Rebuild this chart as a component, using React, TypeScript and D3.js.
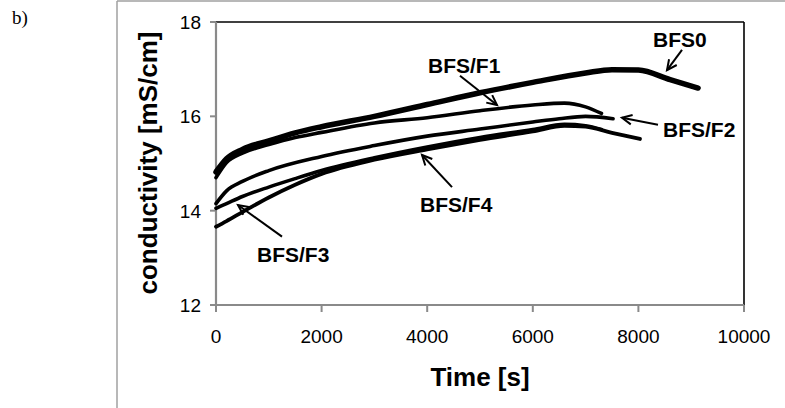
import React from 'react';
import * as d3 from 'd3';

// ---- data ----
const xTickValues = [0, 2000, 4000, 6000, 8000, 10000];
const yTickValues = [12, 14, 16, 18];

const timeBFS0 = [0, 200, 500, 1000, 1500, 2000, 3000, 4000, 5000, 6000, 7000, 7500, 8000, 8600, 9130];
const condBFS0 = [14.82, 15.1, 15.3, 15.48, 15.65, 15.78, 16.0, 16.25, 16.5, 16.72, 16.92, 16.99, 16.98, 16.78, 16.6];

const timeF1 = [0, 200, 500, 1000, 1500, 2000, 3000, 4000, 5000, 6000, 6600, 7000, 7300];
const condF1 = [14.7, 15.02, 15.22, 15.4, 15.55, 15.66, 15.86, 15.97, 16.12, 16.24, 16.28, 16.2, 16.06];

const timeF2 = [0, 200, 500, 1000, 2000, 3000, 4000, 5000, 6000, 6500, 7000, 7520];
const condF2 = [14.15, 14.42, 14.62, 14.85, 15.15, 15.38, 15.58, 15.73, 15.88, 15.95, 16.0, 15.95];

const timeF3 = [0, 200, 500, 1000, 1500, 2000, 3000, 4000, 5000, 6000, 6600, 7000, 7300];
const condF3 = [14.05, 14.15, 14.3, 14.5, 14.68, 14.85, 15.12, 15.35, 15.55, 15.72, 15.83, 15.8, 15.72];

const timeF4 = [0, 200, 500, 1000, 1500, 2000, 3000, 4000, 5000, 6000, 6600, 7000, 7500, 8030];
const condF4 = [13.66, 13.78, 13.97, 14.28, 14.55, 14.78, 15.08, 15.3, 15.5, 15.68, 15.8, 15.78, 15.65, 15.52];

const seriesNames = ['BFS0', 'BFS/F1', 'BFS/F2', 'BFS/F3', 'BFS/F4'];

// annotation: label position (left, baseline) and arrow from -> tip, in data units
const labelTime = [8277, 4015, 8466, 777, 3864];
const labelCond = [17.47, 16.92, 15.56, 12.92, 13.97];
const arrowFromTime = [8826, 4621, 8371, 1250, 4470];
const arrowFromCond = [17.41, 16.86, 15.82, 13.45, 14.5];
const arrowTipTime = [8542, 5322, 7689, 417, 3902];
const arrowTipCond = [16.98, 16.24, 15.97, 14.12, 15.18];

export default function App() {
  const x = d3.scaleLinear().domain([0, 10000]).range([216, 744]);
  const y = d3.scaleLinear().domain([12, 18]).range([305, 22]);

  const series = [
    { t: timeBFS0, v: condBFS0, w: 5.5 },
    { t: timeF1, v: condF1, w: 3.6 },
    { t: timeF2, v: condF2, w: 3.6 },
    { t: timeF3, v: condF3, w: 3.6 },
    { t: timeF4, v: condF4, w: 3.8 },
  ];

  const line = d3
    .line<[number, number]>()
    .x((d) => x(d[0]))
    .y((d) => y(d[1]))
    .curve(d3.curveMonotoneX);

  const font = 'Arial, "Liberation Sans", sans-serif';
  const [x0, x1] = x.range();
  const [yb, yt] = y.range();

  return (
    <svg
      width={785}
      height={408}
      style={{ position: 'absolute', left: 0, top: 0, background: '#fff' }}
    >
      <rect x={0} y={0} width={785} height={408} fill="#fff" />
      {/* outer frame */}
      <line x1={117} y1={1} x2={785} y2={1} stroke="#a0a0a0" strokeWidth={1.5} />
      <line x1={117} y1={1} x2={117} y2={408} stroke="#a0a0a0" strokeWidth={1.5} />
      <text x={12} y={24} fontFamily='"Liberation Serif", serif' fontSize={19} fill="#000">
        b)
      </text>

      {/* plot border */}
      <line x1={x0} y1={yt} x2={x1} y2={yt} stroke="#000" strokeWidth={1.6} />
      <line x1={x1} y1={yt} x2={x1} y2={yb} stroke="#000" strokeWidth={1.6} />

      {/* axes */}
      <line x1={x0} y1={yt} x2={x0} y2={yb} stroke="#8a8a8a" strokeWidth={2.2} />
      <line x1={x0} y1={yb} x2={x1} y2={yb} stroke="#8a8a8a" strokeWidth={2.2} />
      {yTickValues.map((v) => (
        <g key={'y' + v}>
          <line x1={x0 - 6} x2={x0} y1={y(v)} y2={y(v)} stroke="#8a8a8a" strokeWidth={2} />
          <text
            x={x0 - 15}
            y={y(v)}
            dy="0.36em"
            textAnchor="end"
            fontFamily={font}
            fontSize={19}
            fill="#000"
          >
            {v}
          </text>
        </g>
      ))}
      {xTickValues.map((t) => (
        <g key={'x' + t}>
          <line x1={x(t)} x2={x(t)} y1={yb} y2={yb + 7} stroke="#8a8a8a" strokeWidth={2} />
          <text x={x(t)} y={343} textAnchor="middle" fontFamily={font} fontSize={19} fill="#000">
            {t}
          </text>
        </g>
      ))}

      <text
        x={480}
        y={386}
        textAnchor="middle"
        fontFamily={font}
        fontWeight="bold"
        fontSize={26}
        fill="#000"
      >
        Time [s]
      </text>
      <text
        transform={`translate(157,163) rotate(-90)`}
        textAnchor="middle"
        fontFamily={font}
        fontWeight="bold"
        fontSize={26}
        fill="#000"
      >
        conductivity [mS/cm]
      </text>

      {/* series */}
      {series.map((s, i) => (
        <path
          key={seriesNames[i]}
          d={line(s.t.map((t, k) => [t, s.v[k]] as [number, number])) || ''}
          fill="none"
          stroke="#000"
          strokeWidth={s.w}
          strokeLinecap="round"
          strokeLinejoin="round"
        />
      ))}

      {/* annotations */}
      {seriesNames.map((name, i) => {
        const fx = x(arrowFromTime[i]);
        const fy = y(arrowFromCond[i]);
        const tx = x(arrowTipTime[i]);
        const ty = y(arrowTipCond[i]);
        const ang = Math.atan2(fy - ty, fx - tx);
        const hl = 11;
        const spread = 0.45;
        const h1x = tx + hl * Math.cos(ang + spread);
        const h1y = ty + hl * Math.sin(ang + spread);
        const h2x = tx + hl * Math.cos(ang - spread);
        const h2y = ty + hl * Math.sin(ang - spread);
        return (
          <g key={'a' + name}>
            <line x1={fx} y1={fy} x2={tx} y2={ty} stroke="#000" strokeWidth={2} />
            <polyline
              points={`${h1x},${h1y} ${tx},${ty} ${h2x},${h2y}`}
              fill="none"
              stroke="#000"
              strokeWidth={2}
            />
            <text
              x={x(labelTime[i])}
              y={y(labelCond[i])}
              fontFamily={font}
              fontWeight="bold"
              fontSize={21}
              fill="#000"
            >
              {name}
            </text>
          </g>
        );
      })}
    </svg>
  );
}
